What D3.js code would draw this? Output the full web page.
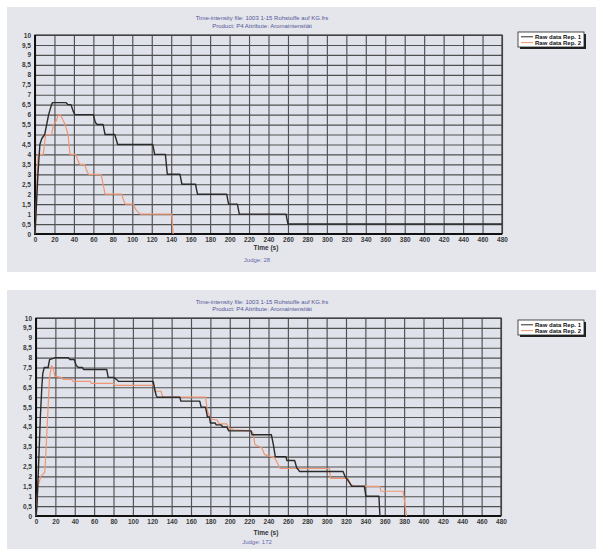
<!DOCTYPE html>
<html><head><meta charset="utf-8">
<script src="https://cdn.jsdelivr.net/npm/d3@7"></script>
<style>
body{margin:0;background:#fff}
svg{display:block}
text{font-family:"Liberation Sans",Arial,sans-serif}
</style>
</head><body>
<svg id="c" width="596" height="549"></svg>
<script>
// ---- data ----
const titleLine1 = "Time-intensity file: 1003 1-15 Rohstoffe auf KG.frs";
const titleLine2 = "Product: P4 Attribute: Aromaintensität";
const seriesNames = ["Raw data Rep. 1", "Raw data Rep. 2"];
const xLabel = "Time (s)";
const judgeLabels = ["Judge: 28", "Judge: 172"];
const xTicks = d3.range(0, 481, 20);
const yTicks = d3.range(0, 10.001, 0.5);

// panel 1 (Judge 28)
const p1Rep1 = [[0,0],[1,1],[3,3],[5,4.5],[7,4.8],[10,5.0],[12,5.5],[14,6.0],[17,6.5],[18,6.6],[32,6.6],[34,6.5],[37,6.5],[39,6.2],[41,6.0],[60,6.0],[62,5.6],[64,5.5],[70,5.5],[72,5.0],[82,5.0],[85,4.5],[121,4.5],[123,4.0],[134,4.0],[136,3.0],[149,3.0],[151,2.5],[165,2.5],[167,2.0],[197,2.0],[199,1.5],[208,1.5],[210,1.0],[258,1.0],[260,0.5],[480,0.5]];
const p1Rep2 = [[0,0],[1,1],[2,2.5],[3,4.0],[8.5,4.0],[10,4.6],[11,5.0],[17,5.0],[19,5.5],[22,5.7],[24,6.0],[26,6.0],[28,5.8],[31,5.5],[34,5.0],[36,4.0],[42,4.0],[44,3.7],[46,3.5],[51,3.5],[53,3.2],[55,3.0],[68,3.0],[70,2.5],[72,2.0],[89,2.0],[91,1.7],[93,1.5],[101,1.5],[104,1.2],[108,1.0],[140.5,1.0],[142,0]];

// panel 2 (Judge 172)
const p2Rep1 = [[0,0],[1,0.5],[3,3],[4.5,5],[6,6.5],[7,7.2],[8.5,7.5],[12.5,7.5],[14,7.9],[20,8.0],[33,8.0],[35,7.9],[39.5,7.9],[41.5,7.6],[44,7.5],[48,7.5],[49,7.4],[73,7.4],[74.5,7.0],[80,7.0],[83,6.9],[85,6.8],[121,6.8],[122.5,6.4],[124,6.1],[125,6.0],[148.5,6.0],[149.5,5.8],[169,5.8],[170.5,5.5],[175,5.5],[177,5.0],[179,5.0],[180,4.7],[185,4.7],[186,4.6],[191,4.6],[193,4.5],[197,4.5],[199,4.3],[222,4.3],[223,4.1],[243,4.1],[245,3.6],[247,3.0],[258,3.0],[259,2.8],[267,2.8],[269,2.45],[272,2.25],[317,2.25],[319,2.0],[322,1.8],[326,1.5],[339,1.5],[340.5,1.0],[354,1.0],[355,0]];
const p2Rep2 = [[0,0],[2,1.5],[5,2.0],[9,2.2],[10,3],[12,5],[14,7],[16,7.6],[17.5,7.5],[19.5,7.05],[26,7.0],[28,6.9],[37,6.9],[38,6.8],[56,6.8],[57,6.7],[80,6.7],[81,6.6],[122,6.6],[123,6.3],[129,6.3],[131,6.0],[175,6.0],[177,5.3],[180,4.9],[187,4.85],[189,4.65],[197,4.65],[199,4.45],[204,4.35],[222,4.3],[224,4.2],[226,3.6],[233,3.45],[236,3.1],[246,2.95],[249,2.7],[252,2.4],[303,2.4],[304,1.9],[322,1.9],[325,1.6],[327.5,1.5],[355,1.5],[356,1.25],[379,1.25],[382.5,0]];

const panelSeries = [[p1Rep1, p1Rep2], [p2Rep1, p2Rep2]];
const seriesColors = ["#2a2a2a", "#ef9673"];

// ---- layout ----
const layouts = [
  {bg:[7,7,589,265], x0:35, x1:502, yTop:35, yBot:234, title:[20,28], tl:248, jl:260, leg:[518,32]},
  {bg:[7,290,589,259], x0:36, x1:501, yTop:318, yBot:516, title:[304,311], tl:533, jl:542, leg:[518,320]}
];

const svg = d3.select("#c");
const fmt = d => (d3.format("~g")(d)).replace(".", ",");

layouts.forEach((L, i) => {
  const g = svg.append("g");
  g.append("rect").attr("x", L.bg[0]).attr("y", L.bg[1]).attr("width", L.bg[2]).attr("height", L.bg[3]).attr("fill", "#e4e6eb");

  const x = d3.scaleLinear().domain([0, 480]).range([L.x0, L.x1]);
  const y = d3.scaleLinear().domain([0, 10]).range([L.yBot, L.yTop]);
  const W = L.x1 - L.x0, H = L.yBot - L.yTop;

  g.append("rect").attr("x", L.x0).attr("y", L.yTop).attr("width", W).attr("height", H).attr("fill", "#dfe2ea");

  // grid + tick labels via axes
  const xa = g.append("g").attr("transform", `translate(0,${L.yBot})`)
    .call(d3.axisBottom(x).tickValues(xTicks).tickSize(-H).tickPadding(6).tickFormat(d3.format("d")));
  const ya = g.append("g").attr("transform", `translate(${L.x0},0)`)
    .call(d3.axisLeft(y).tickValues(yTicks).tickSize(-W).tickPadding(4).tickFormat(fmt));
  [xa, ya].forEach(a => {
    a.select(".domain").remove();
    a.selectAll(".tick line").attr("stroke", "#505050").attr("stroke-width", 1.15);
    a.selectAll(".tick text").attr("fill", "#3a3a3a").style("font-size", "6.5px").style("font-weight", "bold");
  });
  xa.selectAll(".tick text").attr("dy", "0.3em");

  // frame
  g.append("rect").attr("x", L.x0).attr("y", L.yTop).attr("width", W).attr("height", H)
    .attr("fill", "none").attr("stroke", "#3a3a3a").attr("stroke-width", 1.2);
  g.append("line").attr("x1", L.x0).attr("x2", L.x0).attr("y1", L.yTop).attr("y2", L.yBot + 1).attr("stroke", "#111").attr("stroke-width", 2);
  g.append("line").attr("x1", L.x0 - 1).attr("x2", L.x1).attr("y1", L.yBot).attr("y2", L.yBot).attr("stroke", "#111").attr("stroke-width", 2);

  // series
  const line = d3.line().x(d => x(d[0])).y(d => y(d[1]));
  [1, 0].forEach(k => {
    g.append("path").datum(panelSeries[i][k]).attr("d", line)
      .attr("fill", "none").attr("stroke", seriesColors[k]).attr("stroke-width", k === 0 ? 1.4 : 1.2).attr("stroke-linejoin", "round");
  });

  // titles
  const cx = 262;
  g.append("text").attr("x", cx).attr("y", L.title[0]).attr("text-anchor", "middle")
    .attr("fill", "#55559a").style("font-size", "6px").text(titleLine1);
  g.append("text").attr("x", cx).attr("y", L.title[1]).attr("text-anchor", "middle")
    .attr("fill", "#55559a").style("font-size", "6px").text(titleLine2);
  g.append("text").attr("x", 266).attr("y", L.tl + 2).attr("text-anchor", "middle")
    .attr("fill", "#333").style("font-size", "6.5px").style("font-weight", "bold").text(xLabel);
  g.append("text").attr("x", 257).attr("y", L.jl + 2).attr("text-anchor", "middle")
    .attr("fill", "#6a6ab0").style("font-size", "6px").text(judgeLabels[i]);

  // legend
  const lg = g.append("g").attr("transform", `translate(${L.leg[0]},${L.leg[1]})`);
  lg.append("rect").attr("x", 2).attr("y", 2).attr("width", 66).attr("height", 15).attr("fill", "#222");
  lg.append("rect").attr("x", 0).attr("y", 0).attr("width", 66).attr("height", 15).attr("fill", "#fff").attr("stroke", "#222").attr("stroke-width", 0.8);
  seriesNames.forEach((n, k) => {
    const yy = 4.8 + k * 5.8;
    lg.append("line").attr("x1", 3).attr("x2", 15).attr("y1", yy).attr("y2", yy).attr("stroke", seriesColors[k]).attr("stroke-width", 1);
    lg.append("text").attr("x", 17).attr("y", yy + 2).attr("fill", "#111").style("font-size", "6px").style("font-weight", "bold").text(n);
  });
});
</script>
</body></html>
